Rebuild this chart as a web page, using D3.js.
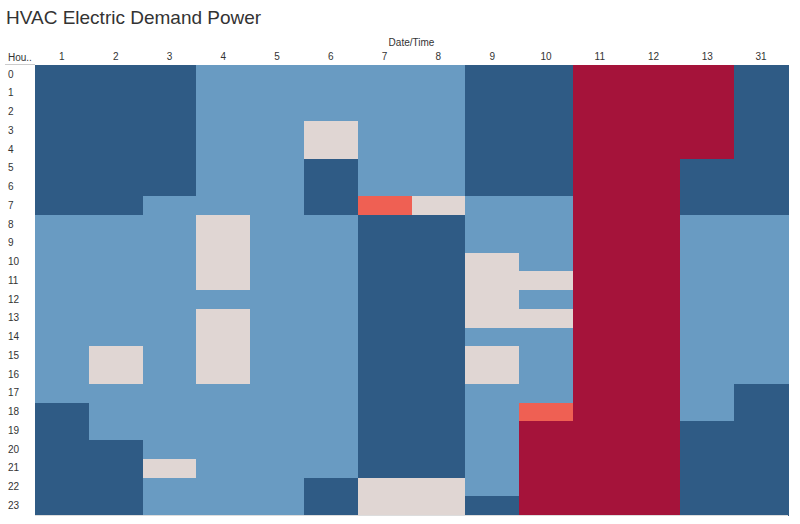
<!DOCTYPE html>
<html><head><meta charset="utf-8">
<script src="https://cdn.jsdelivr.net/npm/d3@7"></script>
<style>body{margin:0;background:#fff;font-family:"Liberation Sans",Arial,sans-serif;}</style>
</head><body><svg id="c" width="800" height="524"></svg>
<script>
const days = ["1","2","3","4","5","6","7","8","9","10","11","12","13","31"];
const hours = d3.range(0,24).map(String);
// category per cell, one string per day column, index = hour (0..23)
// D=dark blue, L=light blue, P=pale, S=salmon, C=crimson
const dayLevels = [
  "DDDDDDDDLLLLLLLLLLDDDDDD", // 1
  "DDDDDDDDLLLLLLLPPLLLDDDD", // 2
  "DDDDDDDLLLLLLLLLLLLLLPLL", // 3
  "LLLLLLLLPPPPLPPPPLLLLLLL", // 4
  "LLLLLLLLLLLLLLLLLLLLLLLL", // 5
  "LLLPPDDDLLLLLLLLLLLLLLDD", // 6
  "LLLLLLLSDDDDDDDDDDDDDDPP", // 7
  "LLLLLLLPDDDDDDDDDDDDDDPP", // 8
  "DDDDDDDLLLPPPPLPPLLLLLLD", // 9
  "DDDDDDDLLLLPLPLLLLSCCCCC", // 10
  "CCCCCCCCCCCCCCCCCCCCCCCC", // 11
  "CCCCCCCCCCCCCCCCCCCCCCCC", // 12
  "CCCCCDDDLLLLLLLLLLLDDDDD", // 13
  "DDDDDDDDLLLLLLLLLDDDDDDD"  // 31
];
const levelKeys = ["D","L","P","S","C"];
const levelColors = ["#2f5b85","#699bc2","#e0d6d3","#ef6053","#a5133a"];

const cells = [];
days.forEach((d,i)=>hours.forEach((h,j)=>cells.push({day:d,hour:h,lvl:dayLevels[i][j]})));

const svg = d3.select("#c");
const m = {left:35, right:12, top:65, bottom:9};
const W = 800, H = 524;
const x = d3.scaleBand().domain(days).range([m.left, W-m.right]);
const y = d3.scaleBand().domain(hours).range([m.top, H-m.bottom]);
const color = d3.scaleOrdinal().domain(levelKeys).range(levelColors);

svg.append("text").attr("x",6).attr("y",24).attr("font-size",19).attr("fill","#333")
  .text("HVAC Electric Demand Power");
svg.append("text").attr("x",(m.left+W-m.right)/2).attr("y",46).attr("text-anchor","middle")
  .attr("font-size",10).attr("fill","#333").text("Date/Time");
svg.append("text").attr("x",8).attr("y",61).attr("font-size",10).attr("fill","#333").text("Hou..");

svg.append("g").attr("shape-rendering","crispEdges").selectAll("rect").data(cells).join("rect")
  .attr("x",d=>x(d.day)).attr("y",d=>y(d.hour))
  .attr("width",x.bandwidth()+0.5).attr("height",y.bandwidth()+0.5)
  .attr("fill",d=>color(d.lvl));

// column header axis
const xa = svg.append("g").attr("transform",`translate(0,${m.top-3})`)
  .call(d3.axisTop(x).tickSize(0).tickPadding(2));
xa.select(".domain").remove();
xa.selectAll("text").attr("font-size",10).attr("fill","#333").attr("font-family","Liberation Sans,Arial,sans-serif");

// row axis
const ya = svg.append("g").attr("transform",`translate(8,0)`)
  .call(d3.axisLeft(y).tickSize(0).tickPadding(0));
ya.select(".domain").remove();
ya.selectAll("text").attr("text-anchor","start").attr("font-size",10).attr("fill","#333")
  .attr("font-family","Liberation Sans,Arial,sans-serif");

// separator lines
svg.append("line").attr("x1",5).attr("x2",m.left).attr("y1",m.top-0.5).attr("y2",m.top-0.5)
  .attr("stroke","#ccc").attr("stroke-width",1);
svg.append("line").attr("x1",m.left).attr("x2",W-m.right).attr("y1",H-m.bottom+0.5).attr("y2",H-m.bottom+0.5)
  .attr("stroke","#ddd").attr("stroke-width",1);
</script></body></html>
